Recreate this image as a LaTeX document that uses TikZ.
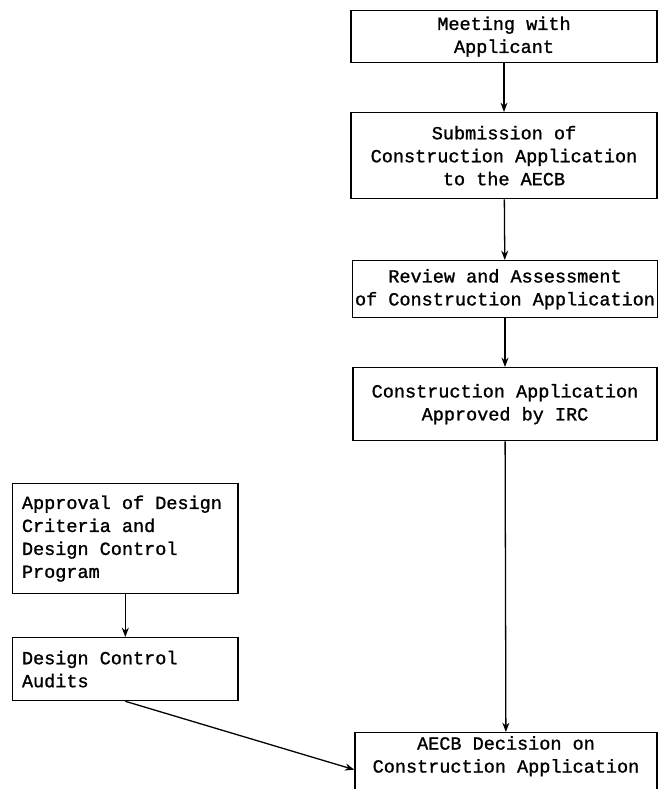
\documentclass[tikz,border=0pt]{standalone}
\usepackage{fontspec}
\setmonofont{Liberation Mono}[WordSpace={1,0,0},FakeBold=1.2]
\usetikzlibrary{positioning,arrows.meta}
\begin{document}
\begin{tikzpicture}[>={Stealth[length=8pt,width=6pt]},x=0.03cm,y=-0.03cm,line width=1.1pt,
		box/.style={draw,font=\fontsize{15.8}{19.6}\selectfont\ttfamily,inner xsep=2pt,inner ysep=3pt},
		mainbox/.style={box,anchor=north,align=center,minimum width=9.18cm},
		sidebox/.style={box,anchor=north west,align=left,text width=6.2cm,inner xsep=0.28cm,
			execute at begin node={\spaceskip=0.6em\relax}}]
		\useasboundingbox (0,0) rectangle (659,789);
		\clip (0,0) rectangle (659,789);
		% licensing chain on the right
		\node[mainbox,minimum height=1.56cm] (meet) at (504,10) {Meeting with\\Applicant};
		\node[mainbox,minimum height=2.58cm] (submit) at (504,112) {Submission of\\Construction Application\\to the AECB};
		\node[mainbox,minimum height=1.71cm,minimum width=9.12cm] (review) at (505,260) {Review and Assessment\\of Construction Application};
		\node[mainbox,minimum height=2.19cm,minimum width=9.12cm] (approve) at (505,367) {Construction Application\\Approved by IRC};
		\node[mainbox,minimum height=2.2cm,minimum width=9.06cm] (decide) at (506,732) {AECB Decision on\\Construction Application\\[0.55cm]};
		% design control on the left
		\node[sidebox,minimum height=3.3cm] (design) at (12,483) {Approval of Design\\Criteria and\\Design Control\\Program};
		\node[sidebox,minimum height=1.89cm] (audit) at (12,637) {Design Control\\Audits};
		\draw[->] (meet) -- (submit);
		\draw[->] (submit) -- (review);
		\draw[->] (review) -- (approve);
		\draw[->] (approve) -- (decide);
		\draw[->] (design) -- (audit);
		\draw[->] (audit.south) -- (decide.178);
\end{tikzpicture}
\end{document}
